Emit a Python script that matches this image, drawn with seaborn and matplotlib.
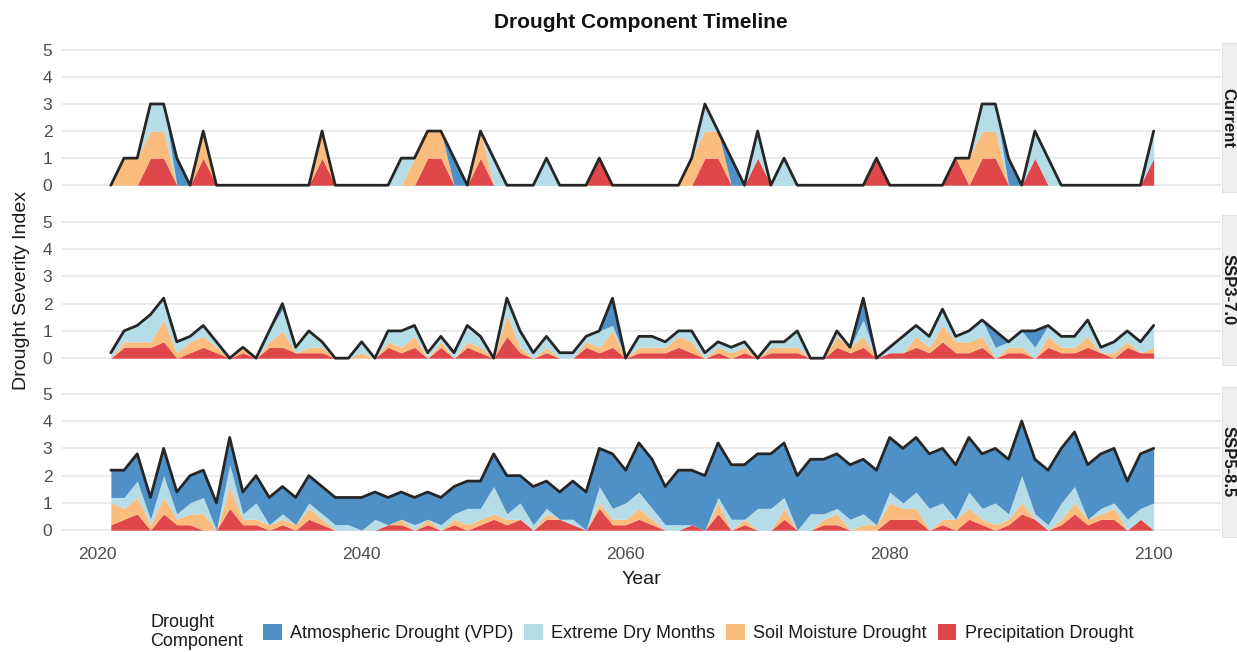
import numpy as np
import pandas as pd
import matplotlib
matplotlib.use("Agg")
import matplotlib.pyplot as plt
from matplotlib.patches import Patch, Rectangle
import seaborn as sns

# ---- data -------------------------------------------------------------
years = list(range(2021, 2101))
scenarios = ["Current", "SSP3-7.0", "SSP5-8.5"]
components = ["Atmospheric Drought (VPD)", "Extreme Dry Months",
              "Soil Moisture Drought", "Precipitation Drought"]

current_precip = [0, 0, 0, 1, 1, 0, 0, 1, 0, 0, 0, 0, 0, 0, 0, 0, 1, 0, 0, 0,
                  0, 0, 0, 0, 1, 1, 0, 0, 1, 0, 0, 0, 0, 0, 0, 0, 0, 1, 0, 0,
                  0, 0, 0, 0, 0, 1, 1, 0, 0, 1, 0, 0, 0, 0, 0, 0, 0, 0, 1, 0,
                  0, 0, 0, 0, 1, 0, 1, 1, 0, 0, 1, 0, 0, 0, 0, 0, 0, 0, 0, 1]
current_soil = [0, 1, 1, 1, 1, 0, 0, 1, 0, 0, 0, 0, 0, 0, 0, 0, 1, 0, 0, 0,
                0, 0, 0, 1, 1, 1, 0, 0, 1, 0, 0, 0, 0, 0, 0, 0, 0, 0, 0, 0,
                0, 0, 0, 0, 1, 1, 1, 0, 0, 0, 0, 0, 0, 0, 0, 0, 0, 0, 0, 0,
                0, 0, 0, 0, 0, 1, 1, 1, 0, 0, 0, 0, 0, 0, 0, 0, 0, 0, 0, 0]
current_extreme = [0, 0, 0, 1, 1, 0, 0, 0, 0, 0, 0, 0, 0, 0, 0, 0, 0, 0, 0, 0,
                   0, 0, 1, 0, 0, 0, 0, 0, 0, 1, 0, 0, 0, 1, 0, 0, 0, 0, 0, 0,
                   0, 0, 0, 0, 0, 1, 0, 0, 0, 1, 0, 1, 0, 0, 0, 0, 0, 0, 0, 0,
                   0, 0, 0, 0, 0, 0, 1, 1, 0, 0, 1, 1, 0, 0, 0, 0, 0, 0, 0, 1]
current_vpd = [0, 0, 0, 0, 0, 1, 0, 0, 0, 0, 0, 0, 0, 0, 0, 0, 0, 0, 0, 0,
               0, 0, 0, 0, 0, 0, 1, 0, 0, 0, 0, 0, 0, 0, 0, 0, 0, 0, 0, 0,
               0, 0, 0, 0, 0, 0, 0, 1, 0, 0, 0, 0, 0, 0, 0, 0, 0, 0, 0, 0,
               0, 0, 0, 0, 0, 0, 0, 0, 1, 0, 0, 0, 0, 0, 0, 0, 0, 0, 0, 0]

ssp370_precip = [0, 0.4, 0.4, 0.4, 0.6, 0, 0.2, 0.4, 0.2, 0,
                 0.2, 0, 0.4, 0.4, 0.2, 0.2, 0.2, 0, 0, 0,
                 0, 0.4, 0.2, 0.4, 0, 0.4, 0, 0.4, 0.2, 0,
                 0.8, 0.2, 0, 0.2, 0, 0, 0.4, 0.2, 0.4, 0,
                 0.2, 0.2, 0.2, 0.4, 0.2, 0, 0.2, 0, 0.2, 0,
                 0.2, 0.2, 0.2, 0, 0, 0.4, 0.2, 0.4, 0, 0.2,
                 0.2, 0.4, 0.2, 0.6, 0.2, 0.2, 0.4, 0, 0.2, 0.2,
                 0, 0.4, 0.2, 0.2, 0.4, 0.2, 0, 0.4, 0.2, 0.2]
ssp370_soil = [0, 0.2, 0.2, 0.2, 0.8, 0.2, 0.4, 0.4, 0.2, 0,
               0.2, 0, 0.2, 0.6, 0, 0.2, 0.2, 0, 0, 0.2,
               0, 0.2, 0.2, 0.4, 0, 0.2, 0, 0.2, 0.2, 0,
               0.8, 0.2, 0, 0.2, 0, 0, 0.2, 0.2, 0.6, 0,
               0.2, 0.2, 0.2, 0.4, 0.4, 0, 0.2, 0.2, 0.2, 0,
               0.2, 0.2, 0.2, 0, 0, 0.4, 0.2, 0.4, 0, 0,
               0, 0.4, 0.2, 0.6, 0.4, 0.4, 0.4, 0, 0.2, 0.2,
               0, 0.4, 0.2, 0.2, 0.4, 0, 0.2, 0.2, 0, 0.2]
ssp370_extreme = [0.2, 0.4, 0.6, 1.0, 0.8, 0.4, 0.2, 0.4, 0.2, 0,
                  0, 0, 0.4, 0.8, 0.2, 0.6, 0.2, 0, 0, 0.4,
                  0, 0.4, 0.6, 0.4, 0.2, 0.2, 0.2, 0.6, 0.4, 0,
                  0.6, 0.6, 0.2, 0.4, 0.2, 0.2, 0.2, 0.6, 0.2, 0,
                  0.4, 0.4, 0.2, 0.2, 0.4, 0.2, 0.2, 0.2, 0.2, 0,
                  0.2, 0.2, 0.6, 0, 0, 0.2, 0, 0.6, 0, 0.2,
                  0.6, 0.4, 0.4, 0.6, 0.2, 0.4, 0.6, 0.4, 0.2, 0.6,
                  0.4, 0.4, 0.4, 0.4, 0.6, 0.2, 0.4, 0.4, 0.4, 0.8]
ssp370_vpd = [0, 0, 0, 0, 0, 0, 0, 0, 0, 0,
              0, 0, 0, 0.2, 0, 0, 0, 0, 0, 0,
              0, 0, 0, 0, 0, 0, 0, 0, 0, 0,
              0, 0, 0, 0, 0, 0, 0, 0, 1.0, 0,
              0, 0, 0, 0, 0, 0, 0, 0, 0, 0,
              0, 0, 0, 0, 0, 0, 0, 0.8, 0, 0,
              0, 0, 0, 0, 0, 0, 0, 0.6, 0, 0,
              0.6, 0, 0, 0, 0, 0, 0, 0, 0, 0]

ssp585_precip = [0.2, 0.4, 0.6, 0, 0.6, 0.2, 0.2, 0, 0, 0.8,
                 0.2, 0.2, 0, 0.2, 0, 0.4, 0.2, 0, 0, 0,
                 0, 0.2, 0.2, 0, 0.2, 0, 0.2, 0, 0.2, 0.4,
                 0.2, 0.4, 0, 0.4, 0.4, 0.2, 0, 0.8, 0.2, 0.2,
                 0.4, 0.2, 0, 0, 0.2, 0, 0.6, 0, 0.2, 0,
                 0, 0.4, 0, 0, 0.2, 0.2, 0, 0, 0, 0.4,
                 0.4, 0.4, 0, 0.2, 0, 0.4, 0.2, 0, 0.2, 0.6,
                 0.4, 0, 0.2, 0.6, 0.2, 0.4, 0.4, 0, 0.4, 0]
ssp585_soil = [0.8, 0.4, 0.6, 0.2, 0.6, 0.2, 0.4, 0.6, 0, 0.8,
               0.2, 0.2, 0.2, 0.2, 0.2, 0.4, 0.2, 0, 0, 0,
               0, 0, 0.2, 0, 0.2, 0, 0.2, 0.2, 0.2, 0.2,
               0.2, 0, 0, 0.2, 0, 0, 0, 0.2, 0.2, 0.2,
               0.4, 0.2, 0, 0, 0, 0, 0.4, 0, 0.2, 0,
               0, 0.4, 0, 0, 0.2, 0.4, 0, 0.2, 0.2, 0.6,
               0.4, 0.4, 0, 0.2, 0.4, 0.4, 0.2, 0.2, 0.2, 0.4,
               0, 0, 0.2, 0.4, 0.2, 0.2, 0.4, 0, 0, 0]
ssp585_extreme = [0.2, 0.4, 0.6, 0.2, 0.8, 0.2, 0.4, 0.6, 0, 0.8,
                  0.2, 0.6, 0, 0.2, 0, 0.2, 0.2, 0.2, 0.2, 0,
                  0.4, 0, 0, 0.2, 0, 0.2, 0.2, 0.6, 0.4, 1.0,
                  0.2, 0.6, 0.2, 0.2, 0, 0.2, 0, 0.6, 0.4, 0.6,
                  0.6, 0.4, 0.2, 0.2, 0, 0, 0.2, 0.4, 0, 0.8,
                  0.8, 0.4, 0, 0.6, 0.2, 0.2, 0.4, 0.4, 0, 0.4,
                  0.2, 0.6, 0.8, 0.6, 0, 0.6, 0.4, 0.8, 0.2, 1.0,
                  0.2, 0.2, 0.6, 0.6, 0, 0.2, 0.2, 0.4, 0.4, 1.0]
ssp585_vpd = [1.0, 1.0, 1.0, 0.8, 1.0, 0.8, 1.0, 1.0, 1.0, 1.0,
              0.8, 1.0, 1.0, 1.0, 1.0, 1.0, 1.0, 1.0, 1.0, 1.2,
              1.0, 1.0, 1.0, 1.0, 1.0, 1.0, 1.0, 1.0, 1.0, 1.2,
              1.4, 1.0, 1.4, 1.0, 1.0, 1.4, 1.4, 1.4, 2.0, 1.2,
              1.8, 1.8, 1.4, 2.0, 2.0, 2.0, 2.0, 2.0, 2.0, 2.0,
              2.0, 2.0, 2.0, 2.0, 2.0, 2.0, 2.0, 2.0, 2.0, 2.0,
              2.0, 2.0, 2.0, 2.0, 2.0, 2.0, 2.0, 2.0, 2.0, 2.0,
              2.0, 2.0, 2.0, 2.0, 2.0, 2.0, 2.0, 1.4, 2.0, 2.0]

x_ticks = [2020, 2040, 2060, 2080, 2100]
y_ticks = [0, 1, 2, 3, 4, 5]

# ---- assemble long table ---------------------------------------------
series = {
    "Current": {"Precipitation Drought": current_precip,
                "Soil Moisture Drought": current_soil,
                "Extreme Dry Months": current_extreme,
                "Atmospheric Drought (VPD)": current_vpd},
    "SSP3-7.0": {"Precipitation Drought": ssp370_precip,
                 "Soil Moisture Drought": ssp370_soil,
                 "Extreme Dry Months": ssp370_extreme,
                 "Atmospheric Drought (VPD)": ssp370_vpd},
    "SSP5-8.5": {"Precipitation Drought": ssp585_precip,
                 "Soil Moisture Drought": ssp585_soil,
                 "Extreme Dry Months": ssp585_extreme,
                 "Atmospheric Drought (VPD)": ssp585_vpd},
}
rows = []
for sc, comps in series.items():
    for comp, vals in comps.items():
        for yr, v in zip(years, vals):
            rows.append((sc, comp, yr, v))
df = pd.DataFrame(rows, columns=["scenario", "component", "year", "value"])

palette = {
    "Atmospheric Drought (VPD)": "#4f90c6",
    "Extreme Dry Months": "#b5dde8",
    "Soil Moisture Drought": "#fbbd7e",
    "Precipitation Drought": "#e0474a",
}
stack_order = ["Precipitation Drought", "Soil Moisture Drought",
               "Extreme Dry Months", "Atmospheric Drought (VPD)"]

# ---- figure -----------------------------------------------------------
sns.set_theme(style="whitegrid")
plt.rcParams["font.family"] = ["Liberation Sans", "DejaVu Sans"]

W, H = 1237, 652
fig = plt.figure(figsize=(W / 100, H / 100), dpi=100)


def fx(px):
    return px / W


def fy(py):
    return 1 - py / H


panel_px = [(43, 192), (215, 365), (387, 537)]
left_px, right_px = 62, 1221
text_grey = "#4d4d4d"

for k, sc in enumerate(scenarios):
    top, bot = panel_px[k]
    ax = fig.add_axes([fx(left_px), fy(bot), fx(right_px - left_px), (bot - top) / H])
    sub = df[df["scenario"] == sc]
    wide = sub.pivot(index="year", columns="component", values="value")[stack_order]
    ax.stackplot(wide.index, *[wide[c].values for c in stack_order],
                 colors=[palette[c] for c in stack_order], linewidth=0)
    total = sub.groupby("year", as_index=False)["value"].sum()
    sns.lineplot(data=total, x="year", y="value", ax=ax, color="#262626",
                 linewidth=2.0, legend=False)

    ax.set_xlim(2017.3, 2105.1)
    ax.set_ylim(-0.25, 5.25)
    ax.set_yticks(y_ticks)
    ax.set_xticks(x_ticks)
    ax.grid(axis="x", visible=False)
    ax.grid(axis="y", color="#e4e4e4", linewidth=1.1)
    ax.set_facecolor("white")
    for s in ax.spines.values():
        s.set_visible(False)
    ax.tick_params(axis="both", length=0, labelsize=12.5, labelcolor=text_grey)
    ax.tick_params(axis="y", pad=7)
    ax.tick_params(axis="x", pad=7)
    ax.set_xlabel("")
    ax.set_ylabel("")
    if k < 2:
        ax.set_xticklabels([])

    # facet strip on the right
    fig.patches.append(Rectangle((fx(1222), fy(bot)), fx(40), (bot - top) / H,
                                 transform=fig.transFigure, facecolor="#efefef",
                                 edgecolor="#e2e2e2", linewidth=0.8, zorder=0))
    fig.text(fx(1228), fy((top + bot) / 2), sc, rotation=-90, ha="center",
             va="center", fontsize=12, fontweight="bold", color="#1a1a1a")

fig.text(fx(641), fy(23), "Drought Component Timeline", ha="center", va="center",
         fontsize=15, fontweight="bold", color="#111111")
fig.text(fx(641), fy(580), "Year", ha="center", va="center", fontsize=14,
         color="#1a1a1a")
fig.text(fx(22), fy(290), "Drought Severity Index", ha="center", va="center",
         rotation=90, fontsize=14, color="#1a1a1a")

# legend
fig.text(fx(150), fy(632), "Drought\nComponent", ha="left", va="center",
         fontsize=13, color="#1a1a1a", linespacing=1.15)
handles = [Patch(facecolor=palette[c], edgecolor="none") for c in components]
fig.legend(handles, components, ncol=4, loc="center",
           bbox_to_anchor=(fx(698), fy(633)), frameon=False, fontsize=13,
           handlelength=1.05, handleheight=1.05, handletextpad=0.45,
           columnspacing=0.6, borderaxespad=0, labelcolor="#1a1a1a")

fig.savefig("out.png", dpi=100, facecolor="white")
